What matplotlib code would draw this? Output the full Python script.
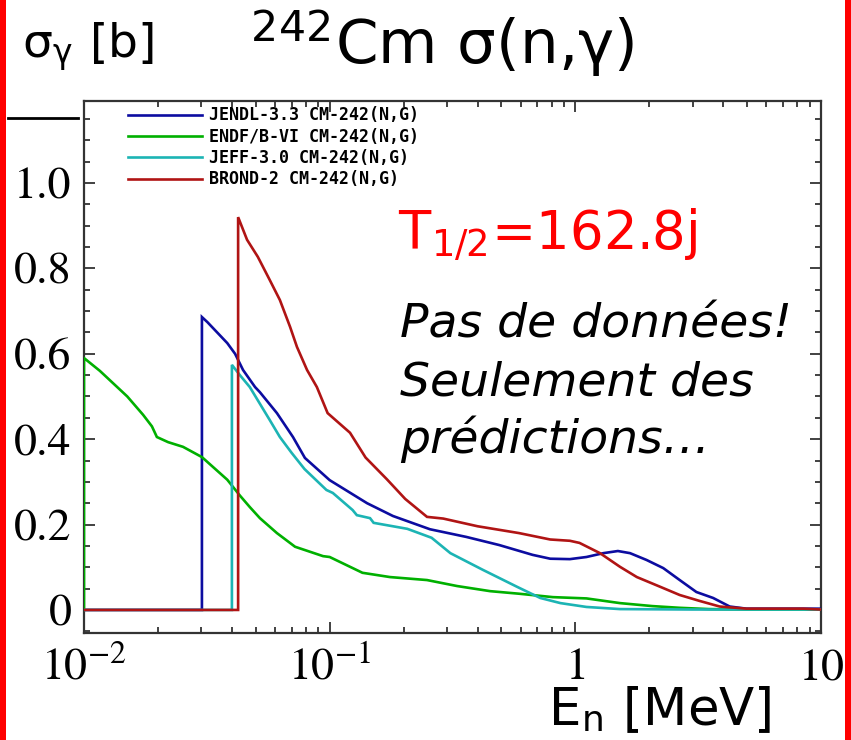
import matplotlib
matplotlib.use("Agg")
import matplotlib.pyplot as plt
from matplotlib.lines import Line2D
from matplotlib.patches import Rectangle
from matplotlib.ticker import FixedLocator, FixedFormatter, LogLocator, MultipleLocator, NullFormatter

plt.rcParams['font.family'] = ['DejaVu Sans']
plt.rcParams['mathtext.fontset'] = 'stix'

# ---- data (energy in MeV, cross section in barn) ----
jendl_E = [0.01, 0.0302, 0.0302, 0.0318, 0.0383, 0.0412, 0.0444, 0.0497, 0.0520, 0.0610, 0.0709,
           0.0793, 0.100, 0.142, 0.181, 0.256, 0.36, 0.49, 0.67, 0.79, 0.95, 1.11, 1.30, 1.49,
           1.67, 1.95, 2.28, 2.66, 3.11, 3.64, 4.25, 4.97, 7.0, 10.0]
jendl_s = [0, 0, 0.686, 0.674, 0.625, 0.600, 0.562, 0.522, 0.510, 0.461, 0.405,
           0.356, 0.304, 0.250, 0.220, 0.189, 0.171, 0.152, 0.129, 0.120, 0.119, 0.124, 0.133, 0.138,
           0.133, 0.117, 0.098, 0.070, 0.042, 0.028, 0.008, 0.003, 0.003, 0.003]

endf_E = [0.01, 0.01, 0.0116, 0.0150, 0.0174, 0.0189, 0.0198, 0.0220, 0.0253, 0.0302, 0.0383,
          0.0431, 0.0473, 0.052, 0.061, 0.0723, 0.094, 0.100, 0.136, 0.176, 0.249, 0.33, 0.45,
          0.59, 0.81, 1.11, 1.52, 2.06, 2.66, 3.5, 5.0, 10.0]
endf_s = [0, 0.59, 0.56, 0.50, 0.457, 0.43, 0.405, 0.393, 0.382, 0.358, 0.305,
          0.268, 0.241, 0.215, 0.18, 0.148, 0.126, 0.124, 0.087, 0.077, 0.070, 0.056, 0.044,
          0.038, 0.030, 0.027, 0.016, 0.009, 0.005, 0.002, 0.001, 0.001]

jeff_E = [0.01, 0.0400, 0.0400, 0.0431, 0.0473, 0.057, 0.0627, 0.070, 0.079, 0.097, 0.103,
          0.124, 0.129, 0.146, 0.151, 0.207, 0.260, 0.31, 0.42, 0.58, 0.72, 0.87, 1.11, 1.52,
          3.0, 10.0]
jeff_s = [0, 0, 0.574, 0.55, 0.522, 0.445, 0.405, 0.368, 0.330, 0.281, 0.274,
          0.234, 0.222, 0.215, 0.204, 0.190, 0.169, 0.133, 0.094, 0.054, 0.028, 0.016, 0.007, 0.002,
          0.001, 0.001]

brond_E = [0.01, 0.0424, 0.0424, 0.0461, 0.051, 0.057, 0.0627, 0.069, 0.0736, 0.0809, 0.0887,
           0.0981, 0.121, 0.140, 0.171, 0.203, 0.249, 0.29, 0.40, 0.59, 0.79, 0.95, 1.04, 1.26,
           1.52, 1.78, 2.22, 2.66, 3.21, 3.87, 4.97, 8.5, 10.0]
brond_s = [0, 0, 0.92, 0.867, 0.827, 0.773, 0.726, 0.663, 0.616, 0.562, 0.522,
           0.461, 0.415, 0.357, 0.306, 0.260, 0.218, 0.214, 0.196, 0.180, 0.165, 0.162, 0.157, 0.133,
           0.101, 0.077, 0.054, 0.035, 0.021, 0.008, 0.003, 0.003, 0.001]

labels = ["JENDL-3.3 CM-242(N,G)", "ENDF/B-VI CM-242(N,G)",
          "JEFF-3.0 CM-242(N,G)", "BROND-2 CM-242(N,G)"]
colors = ["#0c0ca0", "#00b000", "#1cb4b4", "#b01414"]

x_ticks = [0.01, 0.1, 1, 10]
x_ticklabels = ["$10^{-2}$", "$10^{-1}$", "$1$", "$10$"]
y_ticks = [0, 0.2, 0.4, 0.6, 0.8, 1.0]
y_ticklabels = ["0", "0.2", "0.4", "0.6", "0.8", "1.0"]

W, H = 851, 740
fig = plt.figure(figsize=(W / 100, H / 100), dpi=100)
ax = fig.add_axes([84 / W, 1 - 633 / H, (821 - 84) / W, (633 - 101) / H])

series = [(jendl_E, jendl_s), (endf_E, endf_s), (jeff_E, jeff_s), (brond_E, brond_s)]
handles = []
for (E, s), c, lab in zip(series, colors, labels):
    ln, = ax.plot(E, s, color=c, lw=1.9, label=lab, solid_joinstyle='miter', zorder=3)
    handles.append(ln)

ax.set_xscale('log')
ax.set_xlim(0.01, 10)
ax.set_ylim(-0.054, 1.192)

ax.xaxis.set_major_locator(FixedLocator(x_ticks))
ax.xaxis.set_major_formatter(FixedFormatter(x_ticklabels))
ax.xaxis.set_minor_locator(LogLocator(base=10, subs=range(2, 10)))
ax.xaxis.set_minor_formatter(NullFormatter())
ax.yaxis.set_major_locator(FixedLocator(y_ticks))
ax.yaxis.set_major_formatter(FixedFormatter(y_ticklabels))
ax.yaxis.set_minor_locator(MultipleLocator(0.05))

ax.tick_params(which='both', direction='in', top=True, right=True, color='#333333', width=1.3)
ax.tick_params(which='major', length=8)
ax.tick_params(which='minor', length=4.5)
ax.tick_params(axis='y', which='major', pad=9, labelsize=33)
ax.tick_params(axis='x', which='major', pad=8, labelsize=33)
for lbl in ax.get_yticklabels():
    lbl.set_fontfamily('STIXGeneral')
for sp in ax.spines.values():
    sp.set_linewidth(1.6)
    sp.set_color('#333333')

leg = ax.legend(handles=handles, loc='upper left', bbox_to_anchor=(0.058, 0.993),
                frameon=False, borderpad=0.1, borderaxespad=0,
                handlelength=4.4, handletextpad=0.45, labelspacing=0.2,
                prop={'family': 'DejaVu Sans Mono', 'weight': 'bold', 'size': 12})

# ---- annotations ----
def ftext(x, y, s, **kw):
    fig.text(x / W, 1 - y / H, s, ha='left', va='baseline', **kw)

ftext(22, 58, r"σ$_\mathregular{γ}$ [b]", fontsize=34)
ftext(250, 64, r"$^\mathregular{242}$Cm σ(n,γ)", fontsize=44)
ftext(398, 250, r"T$_\mathregular{1/2}$=162.8j", fontsize=38, color='#ff0000')
ftext(400, 338, "Pas de données!", fontsize=34, style='italic')
ftext(400, 396, "Seulement des", fontsize=34, style='italic')
ftext(400, 453, "prédictions…", fontsize=34, style='italic')
ftext(548, 725, r"E$_\mathregular{n}$ [MeV]", fontsize=37)

fig.add_artist(Line2D([8 / W, 78 / W], [1 - 118 / H, 1 - 118 / H], color='black', lw=2,
                      transform=fig.transFigure))
fig.add_artist(Rectangle((0, 0), 6 / W, 1, color='#ff0000', transform=fig.transFigure, lw=0))
fig.add_artist(Rectangle((845 / W, 0), 6 / W, 1, color='#ff0000', transform=fig.transFigure, lw=0))

fig.savefig("out.png", dpi=100)
